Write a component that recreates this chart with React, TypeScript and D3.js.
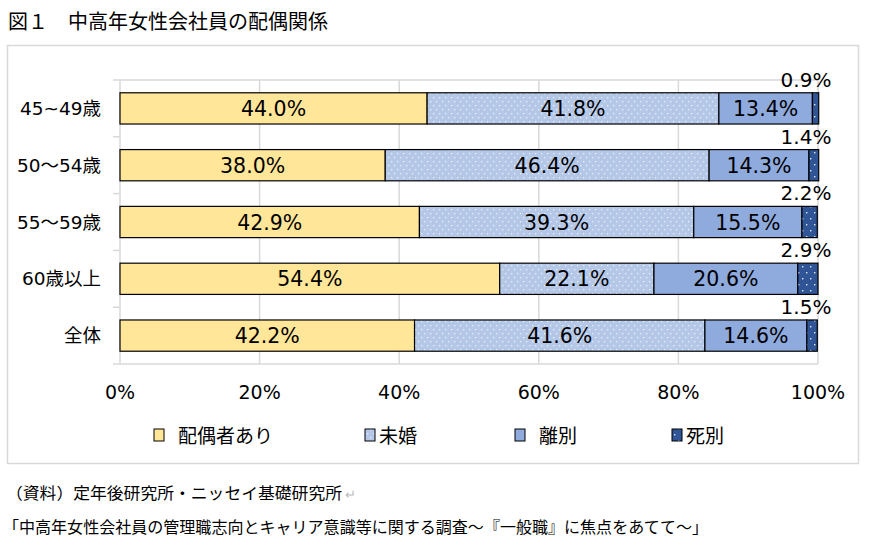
import React from "react";
import * as d3 from "d3";

const categories = ["45~49歳", "50～54歳", "55～59歳", "60歳以上", "全体"];
const seriesNames = ["配偶者あり", "未婚", "離別", "死別"];
const married = [44.0, 38.0, 42.9, 54.4, 42.2];
const single = [41.8, 46.4, 39.3, 22.1, 41.6];
const divorced = [13.4, 14.3, 15.5, 20.6, 14.6];
const widowed = [0.9, 1.4, 2.2, 2.9, 1.5];
const xTicks = [0, 20, 40, 60, 80, 100];
const titleText = "図１　中高年女性会社員の配偶関係";
const sourceLine1 = "（資料）定年後研究所・ニッセイ基礎研究所";
const sourceLine2 = "「中高年女性会社員の管理職志向とキャリア意識等に関する調査～『一般職』に焦点をあてて～」";

const fills = ["#FFE699", "url(#patSingle)", "#8FAADC", "url(#patWidow)"];

const W = 870;
const H = 549;
const plot = { left: 120, right: 818, top: 80, bottom: 364 };
const NUM = "'DejaVu Sans', 'Noto Sans CJK JP', sans-serif";
const JP = "'Noto Sans CJK JP', sans-serif";

export default function App() {
  const data = categories.map((c, i) => ({
    cat: c,
    vals: [married[i], single[i], divorced[i], widowed[i]],
  }));
  const x = d3.scaleLinear().domain([0, 100]).range([plot.left, plot.right]);
  const y = d3
    .scaleBand<string>()
    .domain(categories)
    .range([plot.top, plot.bottom])
    .paddingInner(0.45)
    .paddingOuter(0.225);
  const yOuter = d3.scaleBand<string>().domain(categories).range([plot.top, plot.bottom]);
  const bh = y.bandwidth();

  const legendX = [154, 365, 515, 672];

  return (
    <svg
      width={W}
      height={H}
      style={{ position: "absolute", left: 0, top: 0, background: "#fff" }}
    >
      <defs>
        <pattern id="patSingle" width="6" height="8" patternUnits="userSpaceOnUse">
          <rect width="6" height="8" fill="#B4C7E7" />
          <rect x="1" y="1" width="1.3" height="1.3" fill="#EAF0FA" />
          <rect x="4" y="5" width="1.3" height="1.3" fill="#EAF0FA" />
        </pattern>
        <pattern id="patWidow" width="8" height="12" patternUnits="userSpaceOnUse">
          <rect width="8" height="12" fill="#2F5597" />
          <rect x="2" y="2" width="1.4" height="1.4" fill="#DDE6F5" />
          <rect x="6" y="8" width="1.4" height="1.4" fill="#DDE6F5" />
        </pattern>
      </defs>

      <text x={8} y={29} fontFamily={JP} fontSize={20} fill="#000">
        {titleText}
      </text>

      <rect x={7.5} y={45.5} width={851} height={418} fill="none" stroke="#D9D9D9" strokeWidth={1.5} />

      {/* gridlines */}
      {xTicks.map((t) => (
        <line
          key={"g" + t}
          x1={x(t)}
          x2={x(t)}
          y1={plot.top}
          y2={plot.bottom}
          stroke="#D9D9D9"
          strokeWidth={1.5}
        />
      ))}
      <line x1={plot.left} x2={plot.right} y1={plot.top} y2={plot.top} stroke="#D9D9D9" strokeWidth={1.5} />
      <line x1={plot.left} x2={plot.right} y1={plot.bottom} y2={plot.bottom} stroke="#D9D9D9" strokeWidth={1.5} />
      {/* category axis ticks */}
      {[...categories.map((c) => yOuter(c) as number), plot.bottom].map((v, i) => (
        <line key={"t" + i} x1={113} x2={plot.left} y1={v} y2={v} stroke="#D9D9D9" strokeWidth={1.5} />
      ))}

      {/* bars */}
      {data.map((d) => {
        let acc = 0;
        const y0 = y(d.cat) as number;
        return (
          <g key={d.cat}>
            {d.vals.map((v, k) => {
              const x0 = x(acc);
              acc += v;
              const x1 = x(acc);
              return (
                <rect
                  key={k}
                  x={x0}
                  y={y0}
                  width={x1 - x0}
                  height={bh}
                  fill={fills[k]}
                  stroke="#000"
                  strokeWidth={1.2}
                />
              );
            })}
          </g>
        );
      })}

      {/* value labels */}
      {data.map((d) => {
        let acc = 0;
        const y0 = y(d.cat) as number;
        return (
          <g key={"l" + d.cat}>
            {d.vals.map((v, k) => {
              const xc = x(acc + v / 2);
              acc += v;
              if (k === 3) {
                return (
                  <text
                    key={k}
                    x={x(99) - 5}
                    y={y0 - 6}
                    textAnchor="middle"
                    fontFamily={NUM}
                    fontSize={20}
                    fill="#000"
                  >
                    {v.toFixed(1)}%
                  </text>
                );
              }
              return (
                <text
                  key={k}
                  x={xc}
                  y={y0 + bh / 2 + 7.5}
                  textAnchor="middle"
                  fontFamily={NUM}
                  fontSize={20.5}
                  fill="#000"
                >
                  {v.toFixed(1)}%
                </text>
              );
            })}
          </g>
        );
      })}

      {/* category labels */}
      {categories.map((c) => (
        <text
          key={"c" + c}
          x={101}
          y={(y(c) as number) + bh / 2 + 6.5}
          textAnchor="end"
          fontFamily={NUM}
          fontSize={18.5}
          fill="#000"
        >
          {c}
        </text>
      ))}

      {/* x tick labels */}
      {xTicks.map((t) => (
        <text
          key={"x" + t}
          x={x(t)}
          y={399}
          textAnchor="middle"
          fontFamily={NUM}
          fontSize={19}
          fill="#000"
        >
          {t}%
        </text>
      ))}

      {/* legend */}
      {seriesNames.map((s, i) => (
        <g key={"lg" + s}>
          <rect
            x={legendX[i]}
            y={429}
            width={10}
            height={12}
            fill={fills[i]}
            stroke="#000"
            strokeWidth={1}
          />
          <text
            x={legendX[i] + (i === 1 || i === 3 ? 14 : 24)}
            y={443}
            fontFamily={JP}
            fontSize={19}
            fill="#000"
          >
            {s}
          </text>
        </g>
      ))}

      {/* source */}
      <text x={6} y={499} fontFamily={JP} fontSize={16} fill="#000" textLength={336} lengthAdjust="spacingAndGlyphs">
        {sourceLine1}
      </text>
      <text x={345} y={499} fontFamily={JP} fontSize={13} fill="#BBB">
        ↵
      </text>
      <text x={3} y={533} fontFamily={JP} fontSize={16} fill="#000" textLength={705} lengthAdjust="spacingAndGlyphs">
        {sourceLine2}
      </text>
    </svg>
  );
}
